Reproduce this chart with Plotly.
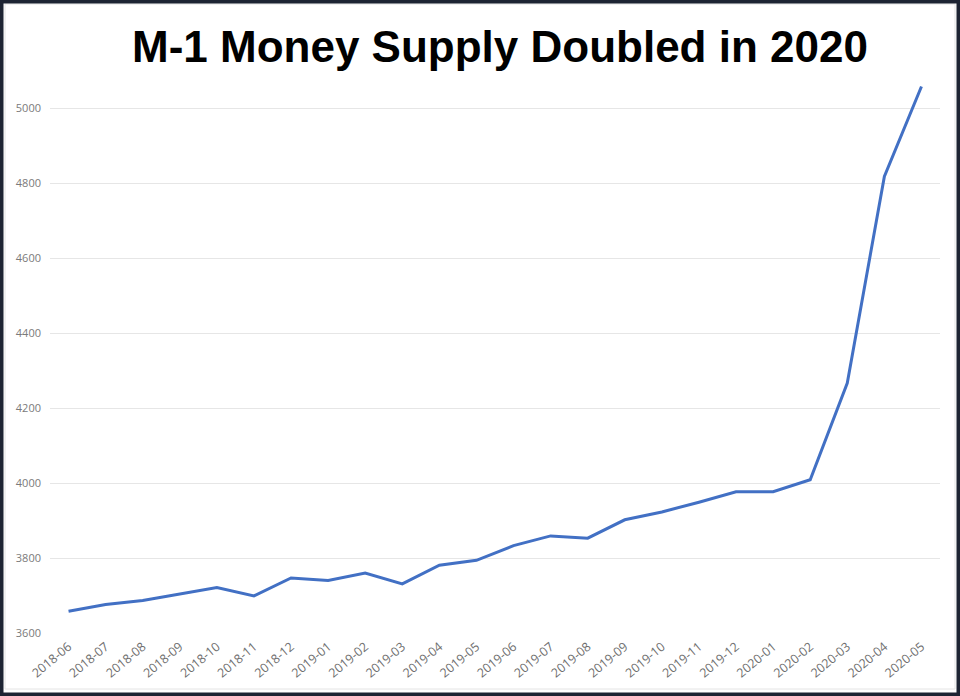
import plotly.graph_objects as go

# M-1 money supply, billions of dollars
months = ['2018-06', '2018-07', '2018-08', '2018-09', '2018-10', '2018-11',
          '2018-12', '2019-01', '2019-02', '2019-03', '2019-04', '2019-05',
          '2019-06', '2019-07', '2019-08', '2019-09', '2019-10', '2019-11',
          '2019-12', '2020-01', '2020-02', '2020-03', '2020-04', '2020-05']
m1 = [3658, 3676, 3687, 3704, 3721, 3699,
      3747, 3740, 3760, 3731, 3781, 3794,
      3833, 3859, 3853, 3902, 3923, 3949,
      3977, 3977, 4009, 4267, 4818, 5058]
y_ticks = [3600, 3800, 4000, 4200, 4400, 4600, 4800, 5000]

W, H = 960, 696
ML, MR, MT, MB = 50, 20, 52, 63
pw, ph = W - ML - MR, H - MT - MB

fig = go.Figure()
fig.add_trace(go.Scatter(x=months, y=m1, mode='lines',
                         line=dict(color='#4270c4', width=3),
                         hoverinfo='x+y'))

# dark frame round the whole picture
fig.add_shape(type='rect', xref='paper', yref='paper',
              x0=-ML / pw, x1=1 + MR / pw, y0=-MB / ph, y1=1 + MT / ph,
              line=dict(color='#1d2433', width=7), layer='above')
fig.add_shape(type='rect', xref='paper', yref='paper',
              x0=-(ML - 5) / pw, x1=1 + (MR - 5) / pw,
              y0=-(MB - 7) / ph, y1=1 + (MT - 4) / ph,
              line=dict(color='#e4e4e4', width=1), layer='below')

fig.update_xaxes(type='category', range=[-0.5, len(months) - 0.5],
                 tickangle=-40, showgrid=False, showline=False, zeroline=False,
                 ticks='', automargin=False, ticklabelstandoff=3,
                 tickfont=dict(family='Open Sans', size=12.5, color='#6e6e6e'))
fig.update_yaxes(range=[3600, 5150], tickvals=y_ticks, showgrid=True,
                 gridcolor='#e6e6e6', gridwidth=1, zeroline=False, showline=False,
                 ticks='', ticklabelstandoff=8, automargin=False,
                 tickfont=dict(family='Open Sans', size=11, color='#7a7a7a'))
fig.update_layout(
    title=dict(text='<b>M-1 Money Supply Doubled in 2020</b>', x=0.5056, xanchor='center',
               xref='paper', y=1 - 47 / H, yanchor='middle',
               font=dict(family='Liberation Sans', size=44, color='black')),
    width=W, height=H,
    margin=dict(l=ML, r=MR, t=MT, b=MB),
    plot_bgcolor='white', paper_bgcolor='white',
    showlegend=False)

fig.write_html('out.html', config={'displayModeBar': False},
               post_script="document.body.style.margin='0';")
